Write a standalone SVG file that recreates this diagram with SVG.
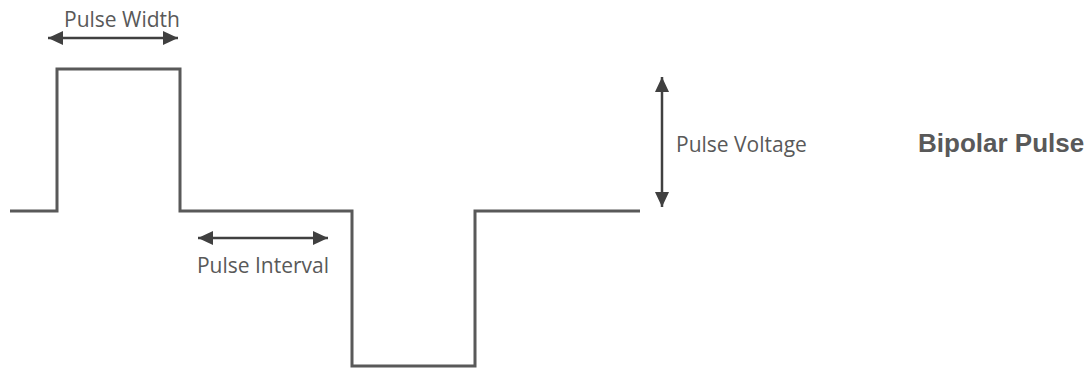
<svg xmlns="http://www.w3.org/2000/svg" width="1091" height="368" viewBox="0 0 1091 368">
<style>
.wave{fill:none;stroke:#595959;stroke-width:3;stroke-linejoin:miter}
.arr{stroke:#404040;stroke-width:2.5;fill:none}
.lbl{font-family:"Open Sans","DejaVu Sans",sans-serif;font-size:21px;fill:#595959}
.title{font-family:"Liberation Sans",Arial,sans-serif;font-size:26px;font-weight:bold;fill:#595959}
</style>
<defs>
<marker id="ah" viewBox="0 0 15 14" refX="15" refY="7" markerWidth="15" markerHeight="14" markerUnits="userSpaceOnUse" orient="auto-start-reverse">
<path d="M0,0 L15,7 L0,14 z" fill="#404040"/>
</marker>
</defs>
<rect width="1091" height="368" fill="#ffffff"/>
<g id="waveform">
<path class="wave" d="M10,211 H57 V69 H180 V211 H352 V366 H475 V211 H640"/>
</g>
<g id="connectors">
<line class="arr" x1="48" y1="38" x2="178" y2="38" marker-start="url(#ah)" marker-end="url(#ah)"/>
<line class="arr" x1="198" y1="238" x2="328" y2="238" marker-start="url(#ah)" marker-end="url(#ah)"/>
<line class="arr" x1="662" y1="77" x2="662" y2="207" marker-start="url(#ah)" marker-end="url(#ah)"/>
</g>
<g id="label-width"><text class="lbl" x="122" y="27" text-anchor="middle">Pulse Width</text></g>
<g id="label-interval"><text class="lbl" x="263" y="273" text-anchor="middle">Pulse Interval</text></g>
<g id="label-voltage"><text class="lbl" x="676" y="152">Pulse Voltage</text></g>
<g id="title"><text class="title" x="918" y="152">Bipolar Pulse</text></g>
</svg>
